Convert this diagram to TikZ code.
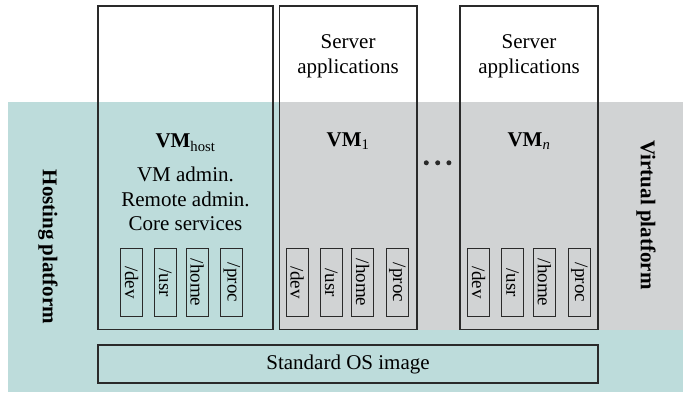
\documentclass[tikz,border=0pt]{standalone}
\usepackage{fontspec}
\setmainfont{Liberation Serif}
\definecolor{tealbg}{HTML}{BDDCDB}
\definecolor{graybg}{HTML}{D1D3D4}
\definecolor{linec}{HTML}{2A2A2A}
\begin{document}
\begin{tikzpicture}[x=1pt,y=-1pt,
  box/.style={draw=linec,line width=1.3pt,minimum width=#1,inner sep=0pt},
  vmbox/.style={box=#1,minimum height=323.5pt},
  dirbox/.style={draw=linec,line width=1.2pt,minimum width=22pt,minimum height=68pt,inner sep=0pt},
  dirtext/.style={rotate=-90,inner sep=0pt,font=\fontsize{19}{22}\selectfont},
  lbl/.style={anchor=base,inner sep=0pt,font=\fontsize{21}{24}\selectfont},
  side/.style={rotate=-90,inner sep=0pt,font=\fontsize{21}{24}\selectfont\bfseries},
  dot/.style={circle,fill=linec,inner sep=0pt,minimum size=5pt}]
\useasboundingbox (0,0) rectangle (683,393);
\fill[tealbg] (8,102) rectangle (683,392);
\fill[graybg] (279.3,102) rectangle (683,330);
% VM boxes
\node[vmbox=175pt] (host) at (185.5,167.75) {};
\node[vmbox=137.7pt] (vm1) at (348.15,167.75) {};
\node[vmbox=138pt] (vmn) at (529,167.75) {};
\node[box=500pt,minimum height=38pt] (os) at (348,364) {};
\node[lbl,anchor=center] (ostext) at (348,364) {Standard OS image};
% dir boxes
\foreach \n/\x/\lab in {hd/131.5/{/dev},hu/165.3/{/usr},hh/197.2/{/home},hp/231.8/{/proc},
                        ad/297.2/{/dev},au/331.2/{/usr},ah/362.7/{/home},ap/397.3/{/proc},
                        nd/478.7/{/dev},nu/512.5/{/usr},nh/544.3/{/home},np/579.3/{/proc}}{
  \node[dirbox] (\n) at (\x,282.5) {};
  \node[dirtext] (\n t) at (\n.center) {\lab};
}
% labels
\node[lbl] (hostlbl) at (185.5,148) {\textbf{VM}\textsubscript{host}};
\node[lbl] (hl1) at (185.5,182) {VM admin.};
\node[lbl] (hl2) at (185.5,206.3) {Remote admin.};
\node[lbl] (hl3) at (185.5,230.5) {Core services};
\node[lbl] (s1a) at (348.15,48.5) {Server};
\node[lbl] (s1b) at (348.15,73.3) {applications};
\node[lbl] (sna) at (529,48.5) {Server};
\node[lbl] (snb) at (529,73.3) {applications};
\node[lbl] (vm1lbl) at (348.15,146.5) {\textbf{VM}\textsubscript{1}};
\node[lbl] (vmnlbl) at (529,146.5) {\textbf{VM}\textsubscript{\textit{n}}};
\node[dot] (d1) at (426.3,162.8) {};
\node[dot] (d2) at (437.7,162.8) {};
\node[dot] (d3) at (448.9,162.8) {};
\node[side] (hosting) at (48,247) {Hosting platform};
\node[side] (virtual) at (646,215) {Virtual platform};
\end{tikzpicture}
\end{document}
